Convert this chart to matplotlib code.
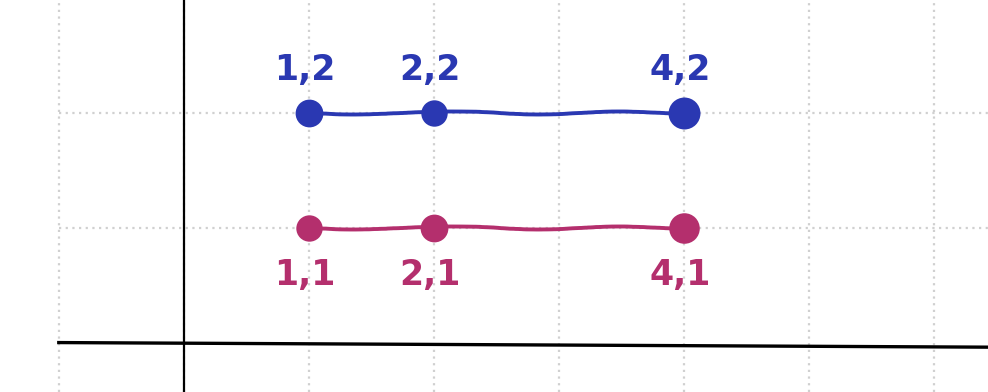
import numpy as np
import matplotlib
matplotlib.use("Agg")
import matplotlib.pyplot as plt

# points
xs = [1, 2, 4]
top_y = [2, 2, 2]
bottom_y = [1, 1, 1]
top_labels = ["1,2", "2,2", "4,2"]
bottom_labels = ["1,1", "2,1", "4,1"]
top_sizes = [20, 19, 23]
bottom_sizes = [19, 20, 22]

blue = "#2a38b2"
pink = "#b42f6d"

fig = plt.figure(figsize=(9.88, 3.92), dpi=100)
ax = fig.add_axes([0, 0, 1, 1])
ax.set_xlim(-1.47, 6.43)
ax.set_ylim(-0.43, 2.98)
ax.axis("off")

# dotted grid
grid_kw = dict(color="#d0d0d0", linestyle=(0, (1, 2)), linewidth=1.6, zorder=0)
for gx in range(-1, 7):
    ax.axvline(gx, **grid_kw)
for gy in [1, 2, 3]:
    ax.plot([-1, 6.43], [gy, gy], **grid_kw)

# axes lines
ax.plot([-1, 6.43], [0, -0.04], color="black", linewidth=2.4, zorder=1)
ax.axvline(0, color="black", linewidth=1.6, zorder=1)

for ys, sizes, labels, col, dy in [(top_y, top_sizes, top_labels, blue, 31),
                                   (bottom_y, bottom_sizes, bottom_labels, pink, -34)]:
    line, = ax.plot(xs, ys, color=col, linewidth=2.8, zorder=2, solid_capstyle="round")
    line.set_sketch_params(scale=1.5, length=250, randomness=4)
    for x, y, s, lab in zip(xs, ys, sizes, labels):
        ax.plot([x], [y], marker="o", markersize=s, color=col, zorder=3, markeredgewidth=0)
        ax.annotate(lab, (x, y), xytext=(-3, dy), textcoords="offset points",
                    ha="center", va="center", color=col, fontsize=25,
                    family="DejaVu Sans", fontweight="bold")

fig.savefig("out.png", dpi=100)
